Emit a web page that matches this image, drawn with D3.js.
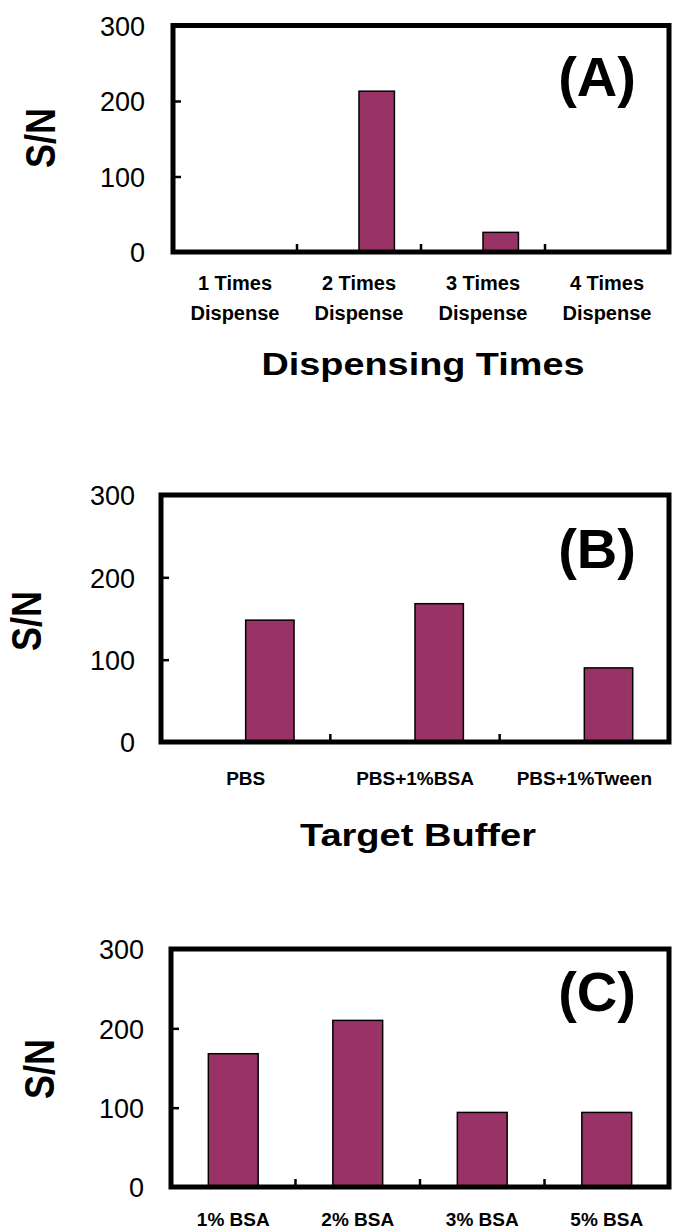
<!DOCTYPE html>
<html>
<head>
<meta charset="utf-8">
<script src="https://cdn.jsdelivr.net/npm/d3@7/dist/d3.min.js"></script>
<style>
  html, body { margin: 0; padding: 0; background: #fff; }
  svg { display: block; }
  text { font-family: "Liberation Sans", Arial, Helvetica, sans-serif; fill: #000; }
</style>
</head>
<body>
<svg id="chart" width="673" height="1230"></svg>
<script>
// ---- Data ----
const yTickValues = [0, 100, 200, 300];

// Panel A: Dispensing times (second slot of a 2-slot cluster)
const categoriesA = ["1 Times|Dispense", "2 Times|Dispense", "3 Times|Dispense", "4 Times|Dispense"];
const valuesA = [0, 213, 26, 0];

// Panel B: Target buffer (second slot of a 2-slot cluster)
const categoriesB = ["PBS", "PBS+1%BSA", "PBS+1%Tween"];
const valuesB = [148, 168, 90];

// Panel C: BSA concentration (single series)
const categoriesC = ["1% BSA", "2% BSA", "3% BSA", "5% BSA"];
const valuesC = [168, 210, 94, 94];

const panelTags = ["(A)", "(B)", "(C)"];
const axisTitles = ["Dispensing Times", "Target Buffer"];
const yTitle = "S/N";

// ---- Drawing ----
const svg = d3.select("#chart");
const BAR_FILL = "#993366";

function drawPanel(cfg) {
  const g = svg.append("g");
  const x = d3.scaleBand().domain(cfg.cats).range([cfg.left, cfg.right]).paddingInner(0).paddingOuter(0);
  const y = d3.scaleLinear().domain([0, 300]).range([cfg.bottom, cfg.top]);
  const bw = x.bandwidth();
  const w = bw / (cfg.slots + 1.5);
  const slotNames = d3.range(cfg.slots).map(i => "s" + i);
  const xs = d3.scaleBand().domain(slotNames).range([0, w * cfg.slots]);
  const useSlot = slotNames[slotNames.length - 1];

  // bars
  g.selectAll("rect.bar").data(cfg.vals).join("rect")
    .attr("class", "bar")
    .attr("x", (d, i) => x(cfg.cats[i]) + bw / 2 - w * cfg.slots / 2 + xs(useSlot))
    .attr("width", xs.bandwidth())
    .attr("y", d => y(d))
    .attr("height", d => y(0) - y(d))
    .attr("fill", BAR_FILL)
    .attr("stroke", "#000")
    .attr("stroke-width", 1.5);

  // inward y ticks
  const yTickAxis = d3.axisRight(y).tickValues(yTickValues).tickSize(8).tickFormat("");
  const ga = g.append("g").attr("transform", `translate(${cfg.left},0)`).call(yTickAxis);
  ga.select(".domain").remove();
  ga.selectAll("line").attr("stroke", "#000").attr("stroke-width", 2.5);

  // y tick labels
  const yLab = d3.axisLeft(y).tickValues(yTickValues).tickSize(0).tickPadding(cfg.labelPad);
  const gl = g.append("g").attr("transform", `translate(${cfg.left},0)`).call(yLab);
  gl.select(".domain").remove();
  gl.selectAll("text")
    .attr("font-size", 27)
    .attr("font-family", "Liberation Sans, Arial, sans-serif")
    .attr("dy", "0.36em");

  // x ticks at category boundaries (inward, upward)
  g.selectAll("line.xt").data(cfg.cats.slice(1)).join("line")
    .attr("class", "xt")
    .attr("x1", d => x(d)).attr("x2", d => x(d))
    .attr("y1", y(0)).attr("y2", y(0) - 8)
    .attr("stroke", "#000").attr("stroke-width", 2.5);

  // frame
  g.append("rect")
    .attr("x", cfg.left).attr("y", cfg.top)
    .attr("width", cfg.right - cfg.left).attr("height", cfg.bottom - cfg.top)
    .attr("fill", "none").attr("stroke", "#000").attr("stroke-width", 5);

  // category labels
  cfg.cats.forEach(c => {
    const lines = c.split("|");
    lines.forEach((ln, k) => {
      g.append("text")
        .attr("x", x(c) + bw / 2)
        .attr("y", cfg.catBase + k * cfg.catLine)
        .attr("text-anchor", "middle")
        .attr("font-weight", "bold")
        .attr("font-size", cfg.catSize)
        .text(ln);
    });
  });

  // panel tag
  g.append("text")
    .attr("x", 597).attr("y", cfg.tagBase)
    .attr("text-anchor", "middle")
    .attr("font-weight", "bold")
    .attr("font-size", 56)
    .text(cfg.tag);

  // y title
  g.append("text")
    .attr("transform", `translate(${cfg.yTitleX},${cfg.yTitleY}) rotate(-90)`)
    .attr("text-anchor", "middle")
    .attr("dy", "0.36em")
    .attr("font-weight", "bold")
    .attr("font-size", 42)
    .attr("textLength", 60)
    .attr("lengthAdjust", "spacingAndGlyphs")
    .text(yTitle);

  // x title
  if (cfg.xTitle) {
    g.append("text")
      .attr("x", cfg.xTitleX).attr("y", cfg.xTitleBase)
      .attr("text-anchor", "middle")
      .attr("font-weight", "bold")
      .attr("font-size", 31)
      .attr("textLength", cfg.xTitleLen)
      .attr("lengthAdjust", "spacingAndGlyphs")
      .text(cfg.xTitle);
  }
}

drawPanel({
  cats: categoriesA, vals: valuesA, slots: 2,
  left: 173, right: 669, top: 25.5, bottom: 252, labelPad: 28,
  catBase: 290, catLine: 30, catSize: 20,
  tag: panelTags[0], tagBase: 96,
  yTitleX: 40, yTitleY: 138,
  xTitle: axisTitles[0], xTitleX: 423, xTitleBase: 375, xTitleLen: 323
});

drawPanel({
  cats: categoriesB, vals: valuesB, slots: 2,
  left: 161, right: 669, top: 495, bottom: 742, labelPad: 26,
  catBase: 785, catLine: 0, catSize: 19,
  tag: panelTags[1], tagBase: 568,
  yTitleX: 26, yTitleY: 621,
  xTitle: axisTitles[1], xTitleX: 418, xTitleBase: 846, xTitleLen: 236
});

drawPanel({
  cats: categoriesC, vals: valuesC, slots: 1,
  left: 171, right: 669, top: 949, bottom: 1187, labelPad: 27,
  catBase: 1226, catLine: 0, catSize: 19,
  tag: panelTags[2], tagBase: 1011,
  yTitleX: 39, yTitleY: 1069
});
</script>
</body>
</html>
